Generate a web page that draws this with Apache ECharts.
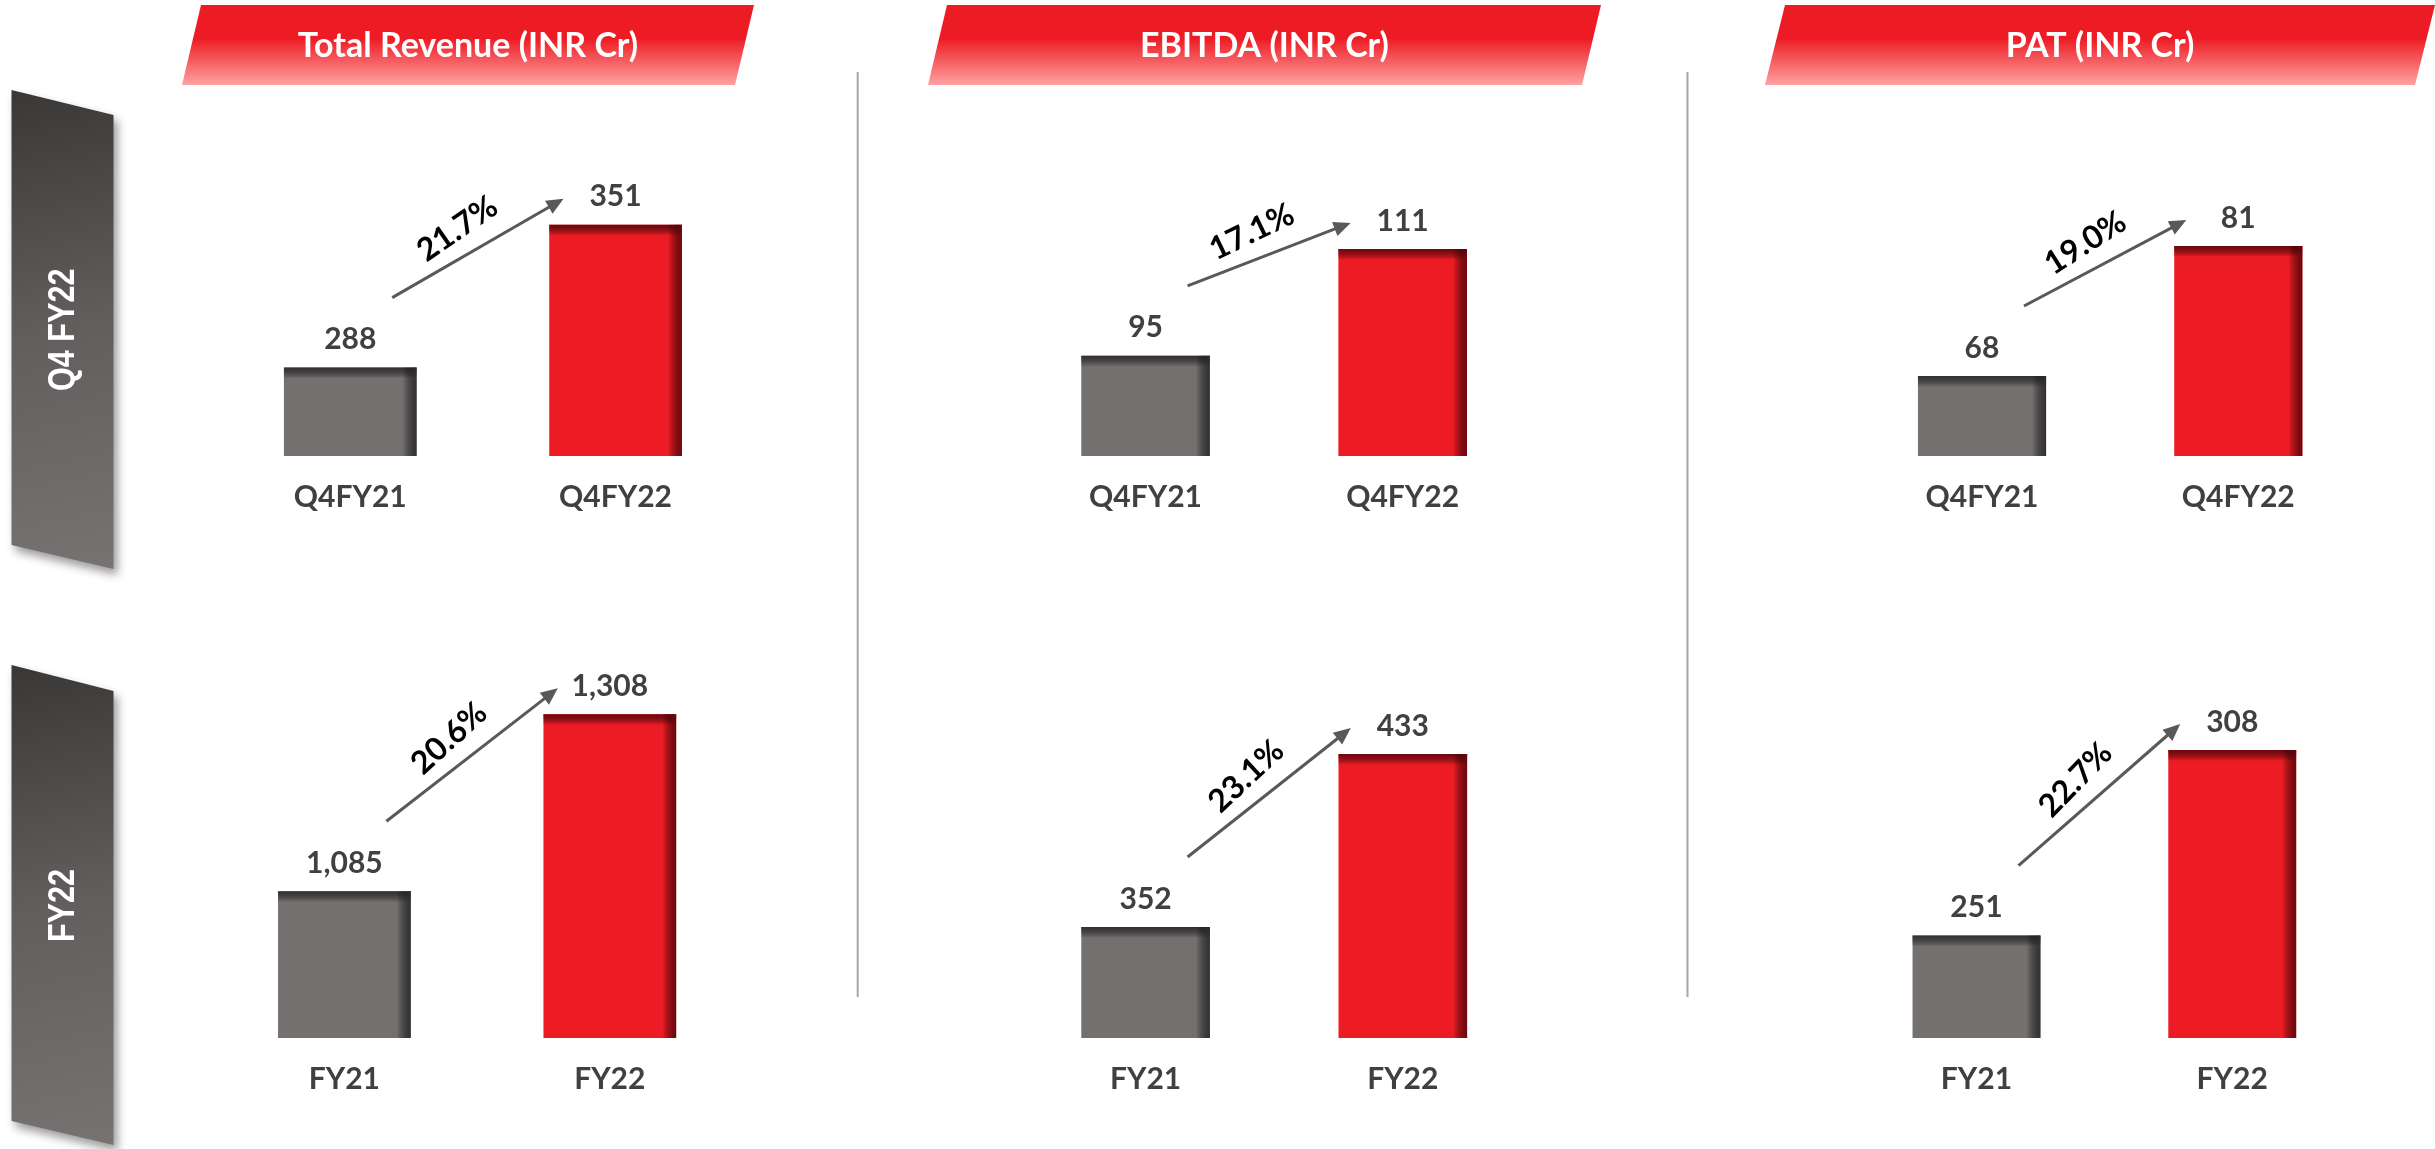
<!DOCTYPE html>
<html>
<head>
<meta charset="utf-8">
<script src="https://cdn.jsdelivr.net/npm/echarts@6/dist/echarts.min.js"></script>
<style>
  html, body { margin: 0; padding: 0; background: #fff; }
  #main { width: 2435px; height: 1149px; }
</style>
</head>
<body>
<div id="main"></div>
<script>
var metricTitles = ['Total Revenue (INR Cr)', 'EBITDA (INR Cr)', 'PAT (INR Cr)'];
var periodTitles = ['Q4 FY22', 'FY22'];
var quarterCats = ['Q4FY21', 'Q4FY22'];
var yearCats = ['FY21', 'FY22'];

var q4Revenue = [288, 351];
var q4Ebitda = [95, 111];
var q4Pat = [68, 81];
var fyRevenue = [1085, 1308];
var fyEbitda = [352, 433];
var fyPat = [251, 308];

var q4Growth = ['21.7%', '17.1%', '19.0%'];
var fyGrowth = ['20.6%', '23.1%', '22.7%'];

// the slide crops its bars, so value axes do not start at zero
var q4AxisMin = [249, 80, 60];
var q4AxisMax = [384, 125.8, 90.6];
var fyAxisMin = [900, 300, 219.5];
var fyAxisMax = [1326, 458.3, 323.4];

var chart = echarts.init(document.getElementById('main'));

var rows = [
  { cats: quarterCats, values: [q4Revenue, q4Ebitda, q4Pat], growth: q4Growth, min: q4AxisMin, max: q4AxisMax },
  { cats: yearCats, values: [fyRevenue, fyEbitda, fyPat], growth: fyGrowth, min: fyAxisMin, max: fyAxisMax }
];

// layout of the six little plots
var gridLeft = [[217.6, 1017, 1853.9], [211.7, 1017, 1848.6]];
var gridWidth = [[530.6, 514.2, 512.5], [530.8, 514.4, 511.5]];
var rowTop = [150, 700];
var rowBottom = [693, 111];

var barColors = [
  { base: '#747070', edge: 'rgba(48,46,46,0.95)' },
  { base: '#ED1C24', edge: 'rgba(105,6,10,0.95)' }
];

function fmt(v) {
  return v.toLocaleString('en-US');
}

function renderBar(params, api) {
  var i = api.value(0);
  var v = api.value(1);
  var pt = api.coord([i, v]);
  var cs = params.coordSys;
  var base = cs.y + cs.height;
  var w = api.size([1, 0])[0] * 0.5;
  var x = pt[0] - w / 2;
  var y = pt[1];
  var h = base - y;
  var c = barColors[i];
  return {
    type: 'group',
    children: [
      { type: 'rect', shape: { x: x, y: y, width: w, height: h }, style: { fill: c.base } },
      {
        type: 'rect', shape: { x: x, y: y, width: w, height: 11 },
        style: { fill: new echarts.graphic.LinearGradient(0, 0, 0, 1, [
          { offset: 0, color: c.edge }, { offset: 1, color: 'rgba(0,0,0,0)' }]) }
      },
      {
        type: 'rect', shape: { x: x + w - 14, y: y, width: 14, height: h },
        style: { fill: new echarts.graphic.LinearGradient(0, 0, 1, 0, [
          { offset: 0, color: 'rgba(0,0,0,0)' }, { offset: 1, color: c.edge }]) }
      },
      {
        type: 'text',
        style: {
          text: fmt(v), x: pt[0], y: y - 13, align: 'center', verticalAlign: 'bottom',
          fontFamily: 'Lato', fontWeight: 'bold', fontSize: 30, fill: '#404040'
        }
      }
    ]
  };
}

var grids = [], xAxes = [], yAxes = [], series = [];
rows.forEach(function (row, r) {
  row.values.forEach(function (vals, p) {
    var gi = grids.length;
    grids.push({
      left: gridLeft[r][p], width: gridWidth[r][p], top: rowTop[r], bottom: rowBottom[r],
      containLabel: false, outerBoundsMode: 'none'
    });
    xAxes.push({
      type: 'category', gridIndex: gi, data: row.cats,
      axisLine: { show: false }, axisTick: { show: false },
      axisLabel: { margin: 26, fontFamily: 'Lato', fontWeight: 'bold', fontSize: 30, color: '#404040' }
    });
    yAxes.push({ type: 'value', gridIndex: gi, min: row.min[p], max: row.max[p], show: false, splitLine: { show: false } });
    series.push({
      type: 'custom', xAxisIndex: gi, yAxisIndex: gi,
      renderItem: renderBar,
      encode: { x: 0, y: 1 },
      data: vals.map(function (v, k) { return [k, v]; })
    });
  });
});

chart.setOption({
  animation: false,
  backgroundColor: '#fff',
  grid: grids,
  xAxis: xAxes,
  yAxis: yAxes,
  series: series
});

var graphics = [];

// red title banners
var titleBanners = [
  [[201, 5], [754, 5], [735, 85], [182, 85]],
  [[947, 5], [1601, 5], [1582, 85], [928, 85]],
  [[1785, 5], [2435, 5], [2415, 85], [1765, 85]]
];
titleBanners.forEach(function (pts, p) {
  graphics.push({
    type: 'polygon', shape: { points: pts },
    style: {
      fill: new echarts.graphic.LinearGradient(0, 0, 0, 1, [
        { offset: 0, color: '#ED1C24' }, { offset: 0.42, color: '#ED1C24' }, { offset: 1, color: '#FFA2A2' }])
    }
  });
  var cx = (pts[0][0] + pts[1][0] + pts[2][0] + pts[3][0]) / 4;
  graphics.push({
    type: 'text', x: cx, y: 46,
    style: {
      text: metricTitles[p], x: 0, y: 0, align: 'center', verticalAlign: 'middle',
      fontFamily: 'Lato', fontWeight: 'bold', fontSize: 34, fill: '#fff'
    }
  });
});

// grey period banners on the left
var sideBanners = [
  [[11.5, 90], [113.5, 115], [113.5, 569], [11.5, 545]],
  [[11.5, 665], [113.5, 691], [113.5, 1145], [11.5, 1121]]
];
sideBanners.forEach(function (pts, r) {
  graphics.push({
    type: 'polygon', shape: { points: pts },
    style: {
      fill: new echarts.graphic.LinearGradient(0, 0, 1, 1, [
        { offset: 0, color: '#3a3737' }, { offset: 0.5, color: '#625e5e' }, { offset: 1, color: '#777373' }]),
      shadowBlur: 10, shadowOffsetX: 4, shadowOffsetY: 6, shadowColor: 'rgba(0,0,0,0.4)'
    }
  });
  graphics.push({
    type: 'text', x: 64, y: (pts[0][1] + pts[3][1] + pts[1][1] + pts[2][1]) / 4,
    rotation: Math.PI / 2, scaleX: 0.85,
    style: {
      text: periodTitles[r], x: 0, y: 0, align: 'center', verticalAlign: 'middle',
      fontFamily: 'Liberation Sans', fontWeight: 'bold', fontSize: 36, fill: '#fff'
    }
  });
});

// vertical dividers
[857.7, 1687.5].forEach(function (x) {
  graphics.push({
    type: 'line', shape: { x1: x, y1: 72, x2: x, y2: 997 },
    style: { stroke: '#a6a6a6', lineWidth: 2 }
  });
});

// growth arrows between the bar pairs
var gi = 0;
rows.forEach(function (row, r) {
  row.values.forEach(function (vals, p) {
    var a = chart.convertToPixel({ gridIndex: gi }, [0, vals[0]]);
    var b = chart.convertToPixel({ gridIndex: gi }, [1, vals[1]]);
    var s = [a[0] + 42, a[1] - 70];
    var e = [b[0] - 52, b[1] - 26];
    var dx = e[0] - s[0], dy = e[1] - s[1];
    var len = Math.sqrt(dx * dx + dy * dy);
    var ux = dx / len, uy = dy / len;
    var nx = -uy, ny = ux;
    var hl = 17, hw = 7.5;
    graphics.push({
      type: 'line', shape: { x1: s[0], y1: s[1], x2: e[0] - ux * 12, y2: e[1] - uy * 12 },
      style: { stroke: '#595959', lineWidth: 3 }
    });
    graphics.push({
      type: 'polygon',
      shape: { points: [
        [e[0], e[1]],
        [e[0] - ux * hl + nx * hw, e[1] - uy * hl + ny * hw],
        [e[0] - ux * hl - nx * hw, e[1] - uy * hl - ny * hw]
      ] },
      style: { fill: '#595959' }
    });
    var ang = Math.atan2(-dy, dx);
    var mx = (s[0] + e[0]) / 2 + uy * 27 - ux * 8;
    var my = (s[1] + e[1]) / 2 - ux * 27 - uy * 8;
    graphics.push({
      type: 'text', x: mx, y: my, rotation: ang + 0.08,
      style: {
        text: row.growth[p], x: 0, y: 0, align: 'center', verticalAlign: 'middle',
        fontFamily: 'Lato', fontWeight: 'bold', fontSize: 32, fill: '#000'
      }
    });
    gi++;
  });
});

chart.setOption({ graphic: graphics });
</script>
</body>
</html>
